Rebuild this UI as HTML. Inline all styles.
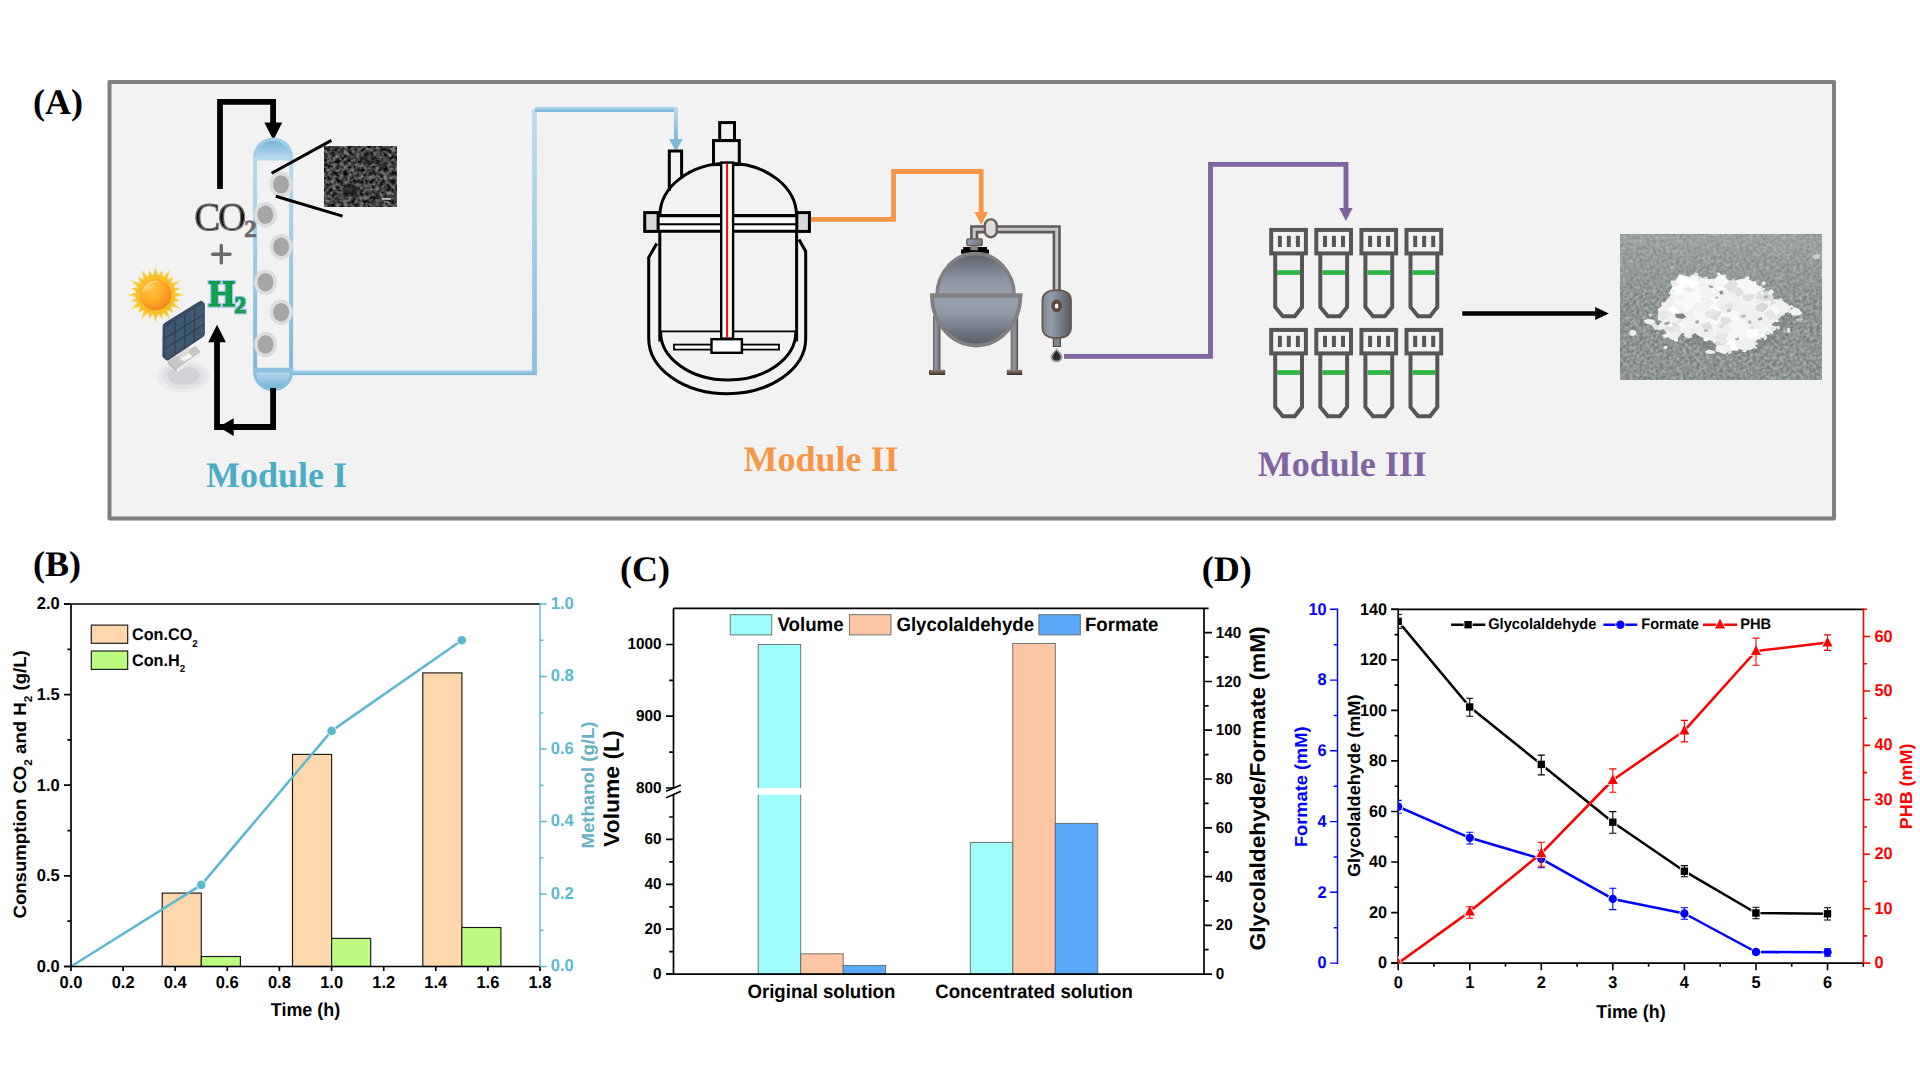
<!DOCTYPE html>
<html lang="en">
<head>
<meta charset="utf-8">
<title>Figure</title>
<style>
html,body{margin:0;padding:0;background:#fff;}
body{width:1920px;height:1080px;overflow:hidden;font-family:"Liberation Sans",sans-serif;}
svg{display:block;}
text{text-rendering:geometricPrecision;}
.ss{font-family:"Liberation Sans",sans-serif;font-weight:bold;}
.sf{font-family:"Liberation Serif",serif;font-weight:bold;}
</style>
</head>
<body>
<svg width="1920" height="1080" viewBox="0 0 1920 1080">
<defs>
<linearGradient id="gDomeT" x1="0" y1="0" x2="0" y2="1"><stop offset="0" stop-color="#74b2d7"/><stop offset="1" stop-color="#b6d8eb"/></linearGradient>
<linearGradient id="gDomeB" x1="0" y1="0" x2="0" y2="1"><stop offset="0" stop-color="#b6d8eb"/><stop offset="1" stop-color="#74b2d7"/></linearGradient>
<linearGradient id="gWall" x1="0" y1="0" x2="0" y2="1"><stop offset="0" stop-color="#b7d9ec"/><stop offset="1" stop-color="#7db9db"/></linearGradient>
<linearGradient id="gBlueH" x1="0" y1="0" x2="0" y2="1"><stop offset="0" stop-color="#b4d8ec"/><stop offset="1" stop-color="#70b1d6"/></linearGradient>
<linearGradient id="gBlueV" x1="0" y1="0" x2="0" y2="1"><stop offset="0" stop-color="#bfdcee"/><stop offset="1" stop-color="#86bfde"/></linearGradient>
<linearGradient id="gBlueV2" x1="0" y1="0" x2="0" y2="1"><stop offset="0" stop-color="#b9daed"/><stop offset="1" stop-color="#7db9db"/></linearGradient>
<radialGradient id="gSun" cx="0.36" cy="0.3" r="0.85"><stop offset="0" stop-color="#ffc63e"/><stop offset="0.45" stop-color="#ffab28"/><stop offset="0.85" stop-color="#f8861f"/><stop offset="1" stop-color="#f2701c"/></radialGradient>
<radialGradient id="gRays" cx="0.5" cy="0.5" r="0.5"><stop offset="0.55" stop-color="#f5b829"/><stop offset="0.78" stop-color="#f6cf45"/><stop offset="1" stop-color="#f8e27c" stop-opacity="0.75"/></radialGradient>
<radialGradient id="gShadow" cx="0.5" cy="0.5" r="0.5"><stop offset="0" stop-color="#d2d1d6"/><stop offset="0.55" stop-color="#d6d5d9"/><stop offset="0.62" stop-color="#e3e3e5"/><stop offset="0.8" stop-color="#e8e8e9"/><stop offset="1" stop-color="#f0f0f0"/></radialGradient>
<linearGradient id="gEvTop" x1="0" y1="0" x2="0" y2="1"><stop offset="0" stop-color="#5b606a"/><stop offset="0.6" stop-color="#8b93a0"/><stop offset="1" stop-color="#9aa3b0"/></linearGradient>
<linearGradient id="gEvBot" x1="0" y1="0" x2="0" y2="1"><stop offset="0" stop-color="#98a2af"/><stop offset="0.35" stop-color="#929aa7"/><stop offset="1" stop-color="#575b65"/></linearGradient>
<linearGradient id="gCond" x1="0" y1="0" x2="1" y2="0"><stop offset="0" stop-color="#7d8592"/><stop offset="0.3" stop-color="#959eac"/><stop offset="1" stop-color="#555963"/></linearGradient>
<linearGradient id="gLeg" x1="0" y1="0" x2="1" y2="0"><stop offset="0" stop-color="#6b5a4e"/><stop offset="0.3" stop-color="#8d96a5"/><stop offset="0.7" stop-color="#7f8794"/><stop offset="1" stop-color="#4a382c"/></linearGradient>
<linearGradient id="gFoot" x1="0" y1="0" x2="0" y2="1"><stop offset="0" stop-color="#8f8379"/><stop offset="1" stop-color="#3d2c22"/></linearGradient>
<linearGradient id="gCap" x1="0" y1="0" x2="1" y2="0"><stop offset="0" stop-color="#97a1b0"/><stop offset="1" stop-color="#6f7785"/></linearGradient>
<linearGradient id="gPhoto" x1="0" y1="0" x2="0" y2="1"><stop offset="0" stop-color="#aab1b0" stop-opacity="0.5"/><stop offset="0.3" stop-color="#a0a8a7" stop-opacity="0.3"/><stop offset="0.6" stop-color="#8e9695" stop-opacity="0"/><stop offset="1" stop-color="#8e9695" stop-opacity="0.1"/></linearGradient>
<filter id="fSem" x="0" y="0" width="100%" height="100%" color-interpolation-filters="sRGB">
<feTurbulence type="fractalNoise" baseFrequency="0.25" numOctaves="3" seed="7"/>
<feColorMatrix type="matrix" values="0.95 0 0 0 -0.215  0.95 0 0 0 -0.215  0.95 0 0 0 -0.215  0 0 0 0 1"/>
</filter>
<filter id="fPhoto" x="0" y="0" width="100%" height="100%" color-interpolation-filters="sRGB">
<feTurbulence type="fractalNoise" baseFrequency="0.3" numOctaves="3" seed="4"/>
<feColorMatrix type="matrix" values="0.42 0 0 0 0.345  0.42 0 0 0 0.372  0.42 0 0 0 0.366  0 0 0 0 1"/>
</filter>
<filter id="fBlur1" x="-20%" y="-20%" width="140%" height="140%"><feGaussianBlur stdDeviation="0.7"/></filter>
<filter id="fBlur03" x="-5%" y="-5%" width="110%" height="110%"><feGaussianBlur stdDeviation="0.28"/></filter>
<filter id="fBlur05" x="-20%" y="-20%" width="140%" height="140%"><feGaussianBlur stdDeviation="0.45"/></filter>
<filter id="fCore" x="-10%" y="-10%" width="120%" height="120%"><feMorphology operator="erode" radius="1.35" in="SourceAlpha" result="e"/><feGaussianBlur in="e" stdDeviation="0.4" result="eb"/><feFlood flood-color="#161616"/><feComposite in2="eb" operator="in" result="c"/><feMerge><feMergeNode in="SourceGraphic"/><feMergeNode in="c"/></feMerge></filter>
<filter id="fGlow" x="-30%" y="-30%" width="160%" height="160%"><feMorphology operator="dilate" radius="1.1" in="SourceAlpha" result="d"/><feGaussianBlur in="d" stdDeviation="0.55" result="b"/><feFlood flood-color="#a4c4ef"/><feComposite in2="b" operator="in" result="g"/><feMerge><feMergeNode in="g"/><feMergeNode in="SourceGraphic"/></feMerge></filter>
<clipPath id="cpPhoto"><rect x="1620" y="234.2" width="202" height="145.6"/></clipPath>
</defs>
<rect x="0" y="0" width="1920" height="1080" fill="#ffffff"/>
<rect x="109.5" y="82" width="1724.5" height="436.5" fill="#f2f2f2" stroke="#7f7f7f" stroke-width="4" stroke-linejoin="round"/>
<text class="sf" x="33" y="113.6" font-size="36">(A)</text>
<text class="sf" x="33" y="575.7" font-size="36">(B)</text>
<text class="sf" x="620.1" y="580.9" font-size="36">(C)</text>
<text class="sf" x="1201.8" y="580.9" font-size="36">(D)</text>
<g id="module1">
<path d="M220 189 V101.8 H273.1 V124" fill="none" stroke="#000" stroke-width="5.8" stroke-linejoin="miter"/>
<polygon points="264.4,122.5 282.2,122.5 273.3,140.2" fill="#000"/>
<path d="M253.1 157.5 A20 20 0 0 1 293.1 157.5 Z" fill="#9fcce6"/>
<path d="M256.3 157.5 A16.8 16.6 0 0 1 289.9 157.5 Z" fill="url(#gDomeT)"/>
<rect x="253.1" y="156.5" width="40" height="4" fill="#b5d8ec"/>
<rect x="253.1" y="160" width="4" height="210" fill="url(#gWall)"/>
<rect x="289.1" y="160" width="4" height="210" fill="url(#gWall)"/>
<rect x="253.1" y="367.7" width="40" height="5" fill="#8cc2e0"/>
<path d="M253.1 372 H293.1 A20 19.2 0 0 1 253.1 372 Z" fill="#86bedd"/>
<path d="M256.3 372.6 H289.9 A16.8 15.8 0 0 1 256.3 372.6 Z" fill="url(#gDomeB)"/>
<ellipse cx="281" cy="184.4" rx="11.6" ry="12.8" fill="#dddddd"/>
<ellipse cx="281" cy="184.4" rx="8" ry="9.2" fill="#a6a6a6"/>
<ellipse cx="265.3" cy="214.8" rx="11.6" ry="12.8" fill="#dddddd"/>
<ellipse cx="265.3" cy="214.8" rx="8" ry="9.2" fill="#a6a6a6"/>
<ellipse cx="281.1" cy="246.8" rx="11.6" ry="12.8" fill="#dddddd"/>
<ellipse cx="281.1" cy="246.8" rx="8" ry="9.2" fill="#a6a6a6"/>
<ellipse cx="265.5" cy="282.3" rx="11.6" ry="12.8" fill="#dddddd"/>
<ellipse cx="265.5" cy="282.3" rx="8" ry="9.2" fill="#a6a6a6"/>
<ellipse cx="281.1" cy="312.3" rx="11.6" ry="12.8" fill="#dddddd"/>
<ellipse cx="281.1" cy="312.3" rx="8" ry="9.2" fill="#a6a6a6"/>
<ellipse cx="265.5" cy="344.5" rx="11.6" ry="12.8" fill="#dddddd"/>
<ellipse cx="265.5" cy="344.5" rx="8" ry="9.2" fill="#a6a6a6"/>
<line x1="271.6" y1="173.2" x2="331.4" y2="140.4" stroke="#000" stroke-width="3"/>
<line x1="275.8" y1="196.2" x2="342.6" y2="216.1" stroke="#000" stroke-width="3"/>
<rect x="324" y="146" width="73" height="60.8" fill="#3a3a3a"/>
<rect x="324" y="146" width="73" height="60.8" fill="#3a3a3a" filter="url(#fSem)"/>
<ellipse cx="350.5" cy="190.5" rx="8" ry="6.5" fill="#1c1c1c" opacity="0.68" filter="url(#fBlur1)"/>
<ellipse cx="369" cy="160" rx="8" ry="5" fill="#1f1f1f" opacity="0.5" filter="url(#fBlur1)"/>
<ellipse cx="383" cy="165" rx="5" ry="4" fill="#1f1f1f" opacity="0.4" filter="url(#fBlur1)"/>
<rect x="382" y="198.2" width="9" height="1.4" fill="#e8e8e8"/>
<rect x="384" y="201.6" width="4" height="0.8" fill="#cfcfcf"/>
<g filter="url(#fCore)" fill="#707070" stroke="#707070" stroke-width="1.1" stroke-linejoin="round"><text class="sf" x="194.3" y="229.7" font-size="39" style="font-weight:normal">C</text><text class="sf" x="217.9" y="229.7" font-size="39" style="font-weight:normal">O</text></g>
<text class="sf" transform="translate(244.1 236.8) scale(1.05 1)" font-size="24.4" fill="#6a6a6a" stroke="#6a6a6a" stroke-width="0.6">2</text>
<path d="M212.6 254.2 H230 M221.3 245.5 V262.9" stroke="#6a6a6a" stroke-width="3.4" fill="none" stroke-linecap="round"/>
<g filter="url(#fGlow)" fill="#09a64d" stroke="#0a9b47" stroke-width="1.5" stroke-linejoin="round"><text class="sf" transform="translate(208.4 306.3) scale(0.915 1)" font-size="37">H</text><text class="sf" x="234.4" y="313.4" font-size="23.5" stroke-width="1.2">2</text></g>
<polygon points="155.6,265.5 158.1,275.7 162.2,270.1 162.9,277.0 170.2,269.4 167.3,279.5 173.6,276.7 170.8,283.0 180.9,280.1 173.3,287.4 180.2,288.1 174.6,292.2 184.8,294.7 174.6,297.2 180.2,301.3 173.3,302.0 180.9,309.3 170.8,306.4 173.6,312.7 167.3,309.9 170.2,320.0 162.9,312.4 162.2,319.3 158.1,313.7 155.6,323.9 153.1,313.7 149.0,319.3 148.3,312.4 141.0,320.0 143.9,309.9 137.6,312.7 140.4,306.4 130.3,309.3 137.9,302.0 131.0,301.3 136.6,297.2 126.4,294.7 136.6,292.2 131.0,288.1 137.9,287.4 130.3,280.1 140.4,283.0 137.6,276.7 143.9,279.5 141.0,269.4 148.3,277.0 149.0,270.1 153.1,275.7" fill="url(#gRays)" filter="url(#fBlur1)"/>
<circle cx="155.6" cy="294.7" r="19.5" fill="#f6c02c" opacity="0.85" filter="url(#fBlur05)"/>
<circle cx="155.6" cy="294.7" r="15.8" fill="url(#gSun)"/>
<path d="M143.4 291.2 A12.8 12.8 0 0 1 156.6 281.5" fill="none" stroke="#ffe9a8" stroke-width="1.5" stroke-linecap="round" opacity="0.75"/>
<ellipse cx="149.6" cy="287.2" rx="4.6" ry="2.4" fill="#ffe08a" opacity="0.5" transform="rotate(-35 149.6 287.2)"/>
<ellipse cx="183.2" cy="376.2" rx="27" ry="16.3" fill="#ebebec"/>
<ellipse cx="183.4" cy="375.9" rx="21.6" ry="12.9" fill="#e1e1e3"/>
<ellipse cx="183.4" cy="375.6" rx="16" ry="9.4" fill="#d3d2d7"/>
<polygon points="167.5,361 195.5,346 200.8,352 176.2,369.6" fill="#c6c6c6"/>
<polygon points="176.2,369.6 200.8,352 200.8,355.4 177.2,372.4" fill="#ececec"/>
<polygon points="167.5,361 176.2,369.6 177.2,372.4 167.8,363.4" fill="#b5b5b5"/>
<polygon points="179.5,352 189,346.8 189,356.4 179.5,361.4" fill="#dadada"/>
<polygon points="181.4,358 189.6,353.4 192.2,356.8 183.6,361.6" fill="#f6f6f6"/>
<path d="M162.6 326.8 Q162.6 324.2 164.8 322.8 L199.6 301.2 Q201.4 300.2 202.6 301.4 L204.2 303 Q204.9 303.8 204.9 305 V333.6 Q204.9 335.8 203 337 L168.8 359.9 Q167 361 165.6 359.8 L163.3 357.8 Q162.4 357 162.4 355.5 Z" fill="#364b63"/>
<path d="M164.8 327.4 L201.4 304.6 Q203.8 303.4 203.8 306 V333 Q203.8 334.8 202.2 335.8 L167.8 358.8 Q165.4 360 165.4 357.4 V329.2 Q165.4 328 164.8 327.4 Z" fill="#40586f"/>
<g stroke="#2b3f56" stroke-width="1.15" fill="none"><path d="M175 321.3 V354 M184.8 315.2 V347.6 M194.5 309.2 V341.2"/><path d="M165.4 338.2 L203.8 314.6 M165.4 348.2 L203.8 324.4"/></g>
<path d="M217 341 V427 H273.1 V388" fill="none" stroke="#000" stroke-width="5.8" stroke-linejoin="miter"/>
<polygon points="208.2,342.3 225.9,342.3 217,324.8" fill="#000"/>
<polygon points="233.7,418.3 233.7,436 218.6,427" fill="#000"/>
<rect x="292.6" y="370.3" width="244.3" height="4.8" fill="url(#gBlueH)"/>
<rect x="532.1" y="109" width="4.8" height="266.1" fill="url(#gBlueV)"/>
<rect x="535" y="107" width="142.9" height="4.9" fill="url(#gBlueH)"/>
<rect x="673.9" y="107" width="4" height="33" fill="url(#gBlueV2)"/>
<polygon points="669.1,139 682.7,139 675.9,151.6" fill="#7db9db"/>
<text class="sf" x="206" y="486.6" font-size="36" fill="#4bacc6">Module I</text>
</g>
<g id="reactor" fill="none" stroke="#000" stroke-width="3" stroke-linejoin="miter">
<path d="M669.3 191 V151 H681.6 V178.5"/>
<rect x="719.7" y="122.6" width="14.8" height="18" fill="#f2f2f2"/>
<rect x="713.5" y="140.6" width="25.8" height="24" fill="#f2f2f2"/>
<path d="M659.9 215.6 A68.3 52.3 0 0 1 796.5 215.6" />
<rect x="659.9" y="215.6" width="136.6" height="15.6" fill="#fbfbfb" stroke="none"/>
<path d="M658 215.6 H798" stroke-width="3.4"/>
<path d="M658 224.2 H798" stroke-width="2"/>
<path d="M658 231.2 H798" stroke-width="3"/>
<rect x="644.7" y="212.6" width="13.4" height="18.8" fill="#d9d9d9"/>
<rect x="796.8" y="212.6" width="12.6" height="18.8" fill="#d9d9d9"/>
<path d="M659.8 231 V341.5 M796.6 231 V341.5"/>
<path d="M660.6 332 A67.6 48 0 0 0 795.8 332" />
<path d="M661 331.4 H795.6" stroke-width="1.8"/>
<path d="M656.8 243.4 L648.7 257.4 V338.5 A78.5 55.2 0 0 0 805.7 338.5 V251.4 L799 239.4"/>
<rect x="721.2" y="162.6" width="11.9" height="176" fill="#fff" stroke-width="2.4"/>
<line x1="727.1" y1="163.5" x2="727.1" y2="338" stroke="#ff0000" stroke-width="2"/>
<rect x="674" y="344.6" width="105" height="5" fill="#fff" stroke-width="1.8"/>
<rect x="711.5" y="339.2" width="30.4" height="13.6" fill="#fff" stroke-width="2.4"/>
</g>
<path d="M811 219.4 H893.6 V171.5 H981.2 V213" fill="none" stroke="#f79646" stroke-width="4.8" stroke-linejoin="miter"/>
<polygon points="974.4,212 987.9,212 981.2,224.9" fill="#f79646"/>
<text class="sf" x="743.6" y="470.8" font-size="36" fill="#f79646">Module II</text>
<g id="evap">
<rect x="933" y="316" width="7.4" height="55" fill="url(#gLeg)"/>
<rect x="1010.7" y="316" width="7.4" height="55" fill="url(#gLeg)"/>
<rect x="929" y="369.8" width="16.2" height="5.2" fill="url(#gFoot)"/>
<rect x="1006.8" y="369.8" width="15.4" height="5.2" fill="url(#gFoot)"/>
<path d="M974.2 240 V229.3 H1056.7 V290" fill="none" stroke="#5c5c5c" stroke-width="8.2" stroke-linejoin="miter"/>
<path d="M974.2 240 V229.3 H1056.7 V290" fill="none" stroke="#c6c6c6" stroke-width="3" stroke-linejoin="miter"/>
<path d="M961 253.8 V249.6 H963.2 V247 H987 V249.6 H989 V253.8 Z" fill="#000"/>
<rect x="970.4" y="245" width="7.4" height="5.2" fill="#8c8c8c"/>
<rect x="966.8" y="238.9" width="15.4" height="6.6" rx="1" fill="url(#gCap)" stroke="#6e5f54" stroke-width="1.4"/>
<path d="M937 295.5 A38.6 42 0 0 1 1014.2 295.5 Z" fill="url(#gEvTop)" stroke="#808080" stroke-width="3.4"/>
<path d="M932 295.5 H1020.4 A44.2 50 0 0 1 932 295.5 Z" fill="url(#gEvBot)" stroke="#808080" stroke-width="3.8"/>
<path d="M930 295.5 H1022.3" stroke="#808080" stroke-width="4.2" fill="none"/>
<rect x="984.9" y="219.4" width="11.8" height="17.8" rx="5.6" ry="6" fill="#dcdcdc" stroke="#6b5f55" stroke-width="2.4"/>
<rect x="1053.4" y="337" width="7" height="9.4" fill="#7e8694" stroke="#5e4a3c" stroke-width="1.2"/>
<path d="M1042.4 301 Q1042.4 290.2 1056.7 290.2 Q1071 290.2 1071 301 V327 Q1071 338 1056.7 338 Q1042.4 338 1042.4 327 Z" fill="url(#gCond)" stroke="#66574b" stroke-width="1.8"/>
<ellipse cx="1056.6" cy="305.9" rx="5.3" ry="6.3" fill="#5e4a3c"/>
<ellipse cx="1056.6" cy="305.9" rx="1.8" ry="2.5" fill="#fff"/>
<path d="M1056.6 348.2 C1059 351.5 1062.6 354 1062.6 357 A6 5.2 0 0 1 1050.6 357 C1050.6 354 1054.2 351.5 1056.6 348.2 Z" fill="#9c9c9c"/>
<path d="M1056.6 350.6 C1058.4 353 1060.6 355 1060.6 357 A4 3.6 0 0 1 1052.6 357 C1052.6 355 1054.8 353 1056.6 350.6 Z" fill="#2a2c30"/>
</g>
<path d="M1064 356.4 H1210.5 V164.4 H1346 V209" fill="none" stroke="#8064a2" stroke-width="4.9" stroke-linejoin="miter"/>
<polygon points="1339.1,208.1 1352.6,208.1 1345.9,220.9" fill="#8064a2"/>
<text class="sf" x="1257.8" y="475.5" font-size="36" fill="#8064a2">Module III</text>
<g id="tubes" fill="none" stroke="#555" stroke-width="4" stroke-linejoin="miter">
<rect x="1271.2" y="229.9" width="34.7" height="23.5"/>
<rect x="1277.9" y="235.8" width="4" height="11.2" fill="#555" stroke="none"/>
<rect x="1286.8" y="235.8" width="4" height="11.2" fill="#555" stroke="none"/>
<rect x="1295.9" y="235.8" width="4" height="11.2" fill="#555" stroke="none"/>
<path d="M1275.2 253.9 V307.1 L1282.8 316.3 H1294.8 L1302.0 307.1 V253.9"/>
<rect x="1277.2" y="270.2" width="22.8" height="4.7" fill="#2db742" stroke="none"/>
<rect x="1316.3" y="229.9" width="34.7" height="23.5"/>
<rect x="1323.0" y="235.8" width="4" height="11.2" fill="#555" stroke="none"/>
<rect x="1331.9" y="235.8" width="4" height="11.2" fill="#555" stroke="none"/>
<rect x="1341.0" y="235.8" width="4" height="11.2" fill="#555" stroke="none"/>
<path d="M1320.3 253.9 V307.1 L1327.9 316.3 H1339.9 L1347.1 307.1 V253.9"/>
<rect x="1322.3" y="270.2" width="22.8" height="4.7" fill="#2db742" stroke="none"/>
<rect x="1361.4" y="229.9" width="34.7" height="23.5"/>
<rect x="1368.1" y="235.8" width="4" height="11.2" fill="#555" stroke="none"/>
<rect x="1377.0" y="235.8" width="4" height="11.2" fill="#555" stroke="none"/>
<rect x="1386.1" y="235.8" width="4" height="11.2" fill="#555" stroke="none"/>
<path d="M1365.4 253.9 V307.1 L1373.0 316.3 H1385.0 L1392.2 307.1 V253.9"/>
<rect x="1367.4" y="270.2" width="22.8" height="4.7" fill="#2db742" stroke="none"/>
<rect x="1406.5" y="229.9" width="34.7" height="23.5"/>
<rect x="1413.2" y="235.8" width="4" height="11.2" fill="#555" stroke="none"/>
<rect x="1422.1" y="235.8" width="4" height="11.2" fill="#555" stroke="none"/>
<rect x="1431.2" y="235.8" width="4" height="11.2" fill="#555" stroke="none"/>
<path d="M1410.5 253.9 V307.1 L1418.1 316.3 H1430.1 L1437.3 307.1 V253.9"/>
<rect x="1412.5" y="270.2" width="22.8" height="4.7" fill="#2db742" stroke="none"/>
<rect x="1271.2" y="329.9" width="34.7" height="23.5"/>
<rect x="1277.9" y="335.8" width="4" height="11.2" fill="#555" stroke="none"/>
<rect x="1286.8" y="335.8" width="4" height="11.2" fill="#555" stroke="none"/>
<rect x="1295.9" y="335.8" width="4" height="11.2" fill="#555" stroke="none"/>
<path d="M1275.2 353.9 V407.1 L1282.8 416.3 H1294.8 L1302.0 407.1 V353.9"/>
<rect x="1277.2" y="370.2" width="22.8" height="4.7" fill="#2db742" stroke="none"/>
<rect x="1316.3" y="329.9" width="34.7" height="23.5"/>
<rect x="1323.0" y="335.8" width="4" height="11.2" fill="#555" stroke="none"/>
<rect x="1331.9" y="335.8" width="4" height="11.2" fill="#555" stroke="none"/>
<rect x="1341.0" y="335.8" width="4" height="11.2" fill="#555" stroke="none"/>
<path d="M1320.3 353.9 V407.1 L1327.9 416.3 H1339.9 L1347.1 407.1 V353.9"/>
<rect x="1322.3" y="370.2" width="22.8" height="4.7" fill="#2db742" stroke="none"/>
<rect x="1361.4" y="329.9" width="34.7" height="23.5"/>
<rect x="1368.1" y="335.8" width="4" height="11.2" fill="#555" stroke="none"/>
<rect x="1377.0" y="335.8" width="4" height="11.2" fill="#555" stroke="none"/>
<rect x="1386.1" y="335.8" width="4" height="11.2" fill="#555" stroke="none"/>
<path d="M1365.4 353.9 V407.1 L1373.0 416.3 H1385.0 L1392.2 407.1 V353.9"/>
<rect x="1367.4" y="370.2" width="22.8" height="4.7" fill="#2db742" stroke="none"/>
<rect x="1406.5" y="329.9" width="34.7" height="23.5"/>
<rect x="1413.2" y="335.8" width="4" height="11.2" fill="#555" stroke="none"/>
<rect x="1422.1" y="335.8" width="4" height="11.2" fill="#555" stroke="none"/>
<rect x="1431.2" y="335.8" width="4" height="11.2" fill="#555" stroke="none"/>
<path d="M1410.5 353.9 V407.1 L1418.1 416.3 H1430.1 L1437.3 407.1 V353.9"/>
<rect x="1412.5" y="370.2" width="22.8" height="4.7" fill="#2db742" stroke="none"/>
</g>
<line x1="1462.3" y1="313.5" x2="1597" y2="313.5" stroke="#000" stroke-width="4.6"/>
<polygon points="1595.2,307 1595.2,320 1608.8,313.5" fill="#000"/>
<rect x="1620" y="234.2" width="202" height="145.6" fill="#8e9695" filter="url(#fPhoto)"/>
<rect x="1620" y="234.2" width="202" height="145.6" fill="url(#gPhoto)"/>
<g clip-path="url(#cpPhoto)">
<g filter="url(#fBlur03)">
<polygon points="1657.8,321.2 1686.3,338.4 1714.8,355.5 1757.6,352.6 1779.0,332.7 1793.2,315.5 1771.8,309.8 1672.0,309.8" fill="#6e7675" opacity="0.35" filter="url(#fBlur1)"/>
<polygon points="1657.8,315.5 1659.2,309.8 1663.5,304.1 1669.2,297.0 1673.5,289.9 1677.7,281.3 1682.0,277.8 1689.1,278.5 1692.7,277.0 1697.0,274.2 1700.5,277.8 1706.2,278.5 1709.1,282.8 1714.8,278.5 1719.1,274.2 1724.8,275.6 1727.6,279.9 1733.3,281.3 1739.0,279.2 1746.2,278.5 1754.7,282.0 1759.0,286.3 1763.3,289.9 1761.8,292.7 1769.0,294.2 1771.8,298.4 1780.4,299.9 1786.1,302.7 1791.1,307.0 1789.7,311.3 1783.2,314.1 1779.0,318.4 1776.1,321.2 1771.8,324.1 1772.5,328.4 1766.1,332.7 1763.3,336.2 1759.0,338.4 1754.7,342.6 1755.4,346.9 1750.4,349.8 1743.3,350.5 1737.6,348.3 1729.1,352.6 1723.4,351.2 1717.7,346.2 1720.5,341.2 1714.8,341.9 1706.2,339.1 1699.1,336.2 1694.8,332.7 1689.1,336.9 1684.9,336.2 1683.4,331.2 1679.9,335.5 1676.3,340.5 1671.3,339.8 1666.3,335.5 1667.0,329.8 1670.6,324.1 1664.9,329.1 1659.2,329.8 1657.1,326.9 1662.0,321.2 1657.8,319.8" fill="#f0f1ef"/>
<polygon points="1674.9,289.9 1682.0,279.2 1692.0,279.9 1700.5,289.9 1702.0,304.1 1692.0,315.5 1682.0,309.8 1674.9,304.1" fill="#fafaf9"/>
<polygon points="1713.4,279.9 1719.8,274.9 1727.6,280.6 1729.1,289.9 1720.5,292.7 1714.8,287.0" fill="#f8f8f7"/>
<polygon points="1733.3,282.8 1746.2,279.2 1757.6,285.6 1762.6,291.3 1751.9,297.0 1740.5,295.6 1733.3,289.9" fill="#f7f7f6"/>
<polygon points="1700.5,309.8 1714.8,304.1 1726.2,315.5 1723.4,326.9 1711.9,329.8 1700.5,321.2" fill="#fbfbfa"/>
<polygon points="1729.1,321.2 1743.3,318.4 1751.9,326.9 1761.8,335.5 1751.9,339.8 1740.5,335.5 1731.9,329.8" fill="#f5f5f4"/>
<polygon points="1657.8,311.3 1672.0,304.1 1676.3,312.7 1672.0,319.8 1660.6,320.5" fill="#e8eae8"/>
<polygon points="1727.7,325.7 1723.4,331.4 1716.6,329.9 1715.9,325.1 1718.7,322.3 1725.3,323.5" fill="#eef0ee"/>
<polygon points="1756.1,299.4 1754.9,304.7 1745.1,302.7 1746.8,295.8" fill="#f6f7f5"/>
<polygon points="1723.0,344.6 1729.1,338.9 1736.2,341.0 1733.5,345.6 1728.9,348.9" fill="#ffffff"/>
<polygon points="1771.5,307.8 1770.1,303.3 1772.7,300.0 1776.4,302.8 1775.9,306.4" fill="#dde0de"/>
<polygon points="1692.4,323.5 1683.7,327.6 1677.1,321.7 1681.5,317.7 1691.5,317.4" fill="#e6e8e6"/>
<polygon points="1741.1,288.2 1736.5,294.1 1725.0,289.9 1727.2,284.4" fill="#e6e8e6"/>
<polygon points="1732.0,292.4 1723.4,286.5 1733.1,278.6 1738.3,284.4" fill="#dde0de"/>
<polygon points="1754.1,329.1 1751.4,332.1 1748.2,331.1 1748.8,327.9 1753.8,326.3" fill="#dde0de"/>
<polygon points="1659.8,307.1 1664.4,305.4 1667.0,306.7 1663.8,311.2 1658.6,309.6" fill="#f2f3f1"/>
<polygon points="1733.0,340.1 1724.7,338.1 1725.8,334.2 1731.4,331.9 1733.4,336.0" fill="#f6f7f5"/>
<polygon points="1704.5,284.7 1700.4,280.1 1703.5,278.1 1710.2,279.0 1710.8,282.1" fill="#f6f7f5"/>
<polygon points="1774.5,331.3 1768.1,329.9 1765.5,326.6 1772.8,325.5 1777.5,327.3" fill="#eef0ee"/>
<polygon points="1706.1,330.1 1704.4,325.6 1710.0,323.3 1717.5,324.5 1714.4,329.4" fill="#f6f7f5"/>
<polygon points="1771.0,291.0 1772.5,294.7 1773.9,300.4 1760.7,301.3 1755.5,297.9 1757.9,291.3" fill="#dde0de"/>
<polygon points="1726.6,344.2 1734.2,346.2 1725.0,354.2 1715.4,351.2 1717.0,342.2" fill="#eef0ee"/>
<polygon points="1760.2,314.9 1764.3,315.3 1764.0,318.6 1760.4,319.2 1758.3,317.0" fill="#f6f7f5"/>
<polygon points="1722.0,311.7 1716.8,321.3 1706.4,316.4 1709.1,309.8" fill="#dde0de"/>
<polygon points="1685.2,279.2 1692.6,278.6 1700.6,283.2 1692.5,287.8 1685.7,285.7" fill="#ffffff"/>
<polygon points="1683.0,283.3 1677.4,289.1 1671.6,285.2 1670.4,280.6 1681.0,280.6" fill="#eef0ee"/>
<polygon points="1685.3,327.9 1677.5,324.9 1685.4,318.0 1689.9,321.9" fill="#f9f9f8"/>
<polygon points="1664.3,330.1 1670.9,327.7 1680.4,329.2 1676.5,335.6 1668.4,335.2" fill="#eef0ee"/>
<polygon points="1713.3,287.4 1715.8,292.9 1712.6,293.3 1705.0,291.3 1707.8,286.4" fill="#f9f9f8"/>
<polygon points="1679.9,310.4 1682.7,312.4 1681.1,313.9 1677.8,313.8 1677.3,310.7" fill="#dde0de"/>
<polygon points="1673.6,315.1 1668.3,312.6 1672.3,308.1 1681.5,309.0 1680.8,313.4" fill="#f2f3f1"/>
<polygon points="1750.2,301.6 1745.7,301.2 1742.4,297.6 1743.1,294.9 1749.2,293.4 1756.2,294.9" fill="#dde0de"/>
<polygon points="1711.9,308.3 1718.0,313.1 1707.4,318.3 1704.2,315.0 1706.4,309.5" fill="#e6e8e6"/>
<polygon points="1726.3,311.9 1728.1,305.5 1737.3,305.4 1733.5,313.2" fill="#eef0ee"/>
<polygon points="1737.4,311.1 1739.9,319.5 1729.8,321.4 1723.4,321.4 1724.2,313.5 1732.3,310.3" fill="#f9f9f8"/>
<polygon points="1708.0,298.1 1704.4,299.5 1704.3,295.4 1709.8,294.3" fill="#f6f7f5"/>
<polygon points="1680.3,307.3 1682.7,311.4 1678.7,312.7 1672.0,311.6 1671.8,308.2" fill="#f9f9f8"/>
<polygon points="1709.9,297.2 1719.1,295.1 1720.4,299.5 1713.1,305.6 1708.6,300.4" fill="#ffffff"/>
<polygon points="1689.9,281.1 1688.4,277.4 1694.8,273.8 1699.1,276.5 1696.2,280.4" fill="#f9f9f8"/>
<polygon points="1724.3,303.6 1730.2,302.1 1734.2,303.8 1732.7,308.1 1724.3,308.3" fill="#e6e8e6"/>
<polygon points="1751.1,318.8 1746.3,318.4 1742.7,314.1 1751.2,310.4 1753.5,314.5" fill="#f2f3f1"/>
<polygon points="1728.4,339.5 1725.1,345.9 1718.9,347.9 1712.2,338.4 1722.0,334.1" fill="#eef0ee"/>
<polygon points="1732.3,321.8 1723.0,325.8 1720.8,320.9 1721.4,316.8 1729.7,317.8" fill="#dde0de"/>
<polygon points="1679.6,274.2 1690.5,277.3 1680.1,286.5 1675.9,279.4" fill="#ffffff"/>
<polygon points="1685.6,295.1 1686.5,298.5 1676.1,301.1 1674.6,295.2" fill="#f2f3f1"/>
<polygon points="1714.5,338.7 1713.1,336.8 1715.0,334.6 1720.6,335.2 1719.9,337.2 1718.5,338.8" fill="#f2f3f1"/>
<polygon points="1674.0,304.1 1681.6,304.8 1686.2,310.0 1679.7,312.3 1675.1,312.9 1671.0,309.4" fill="#f2f3f1"/>
<polygon points="1701.0,302.5 1704.8,304.6 1701.8,307.7 1697.2,307.5 1695.6,304.0" fill="#eef0ee"/>
<polygon points="1688.3,286.7 1695.8,290.7 1689.1,292.5 1683.4,289.0" fill="#e6e8e6"/>
<polygon points="1757.0,298.9 1763.5,300.6 1763.2,306.3 1757.9,304.7 1753.2,301.3" fill="#eef0ee"/>
<polygon points="1702.9,310.9 1708.0,320.2 1701.8,323.1 1690.9,316.6 1695.6,312.3" fill="#f6f7f5"/>
<polygon points="1726.0,342.9 1719.8,347.1 1714.0,343.8 1719.4,337.7 1725.4,335.9 1730.1,338.7" fill="#d6d9d7"/>
<polygon points="1717.2,333.3 1730.4,333.3 1730.3,337.9 1728.8,341.3 1721.3,344.2 1714.6,337.9" fill="#e6e8e6"/>
<polygon points="1682.0,323.2 1685.7,315.6 1693.8,315.2 1701.3,325.5 1690.5,328.4" fill="#f2f3f1"/>
<polygon points="1682.4,285.2 1680.3,293.0 1668.7,294.1 1672.7,286.0" fill="#ffffff"/>
<polygon points="1666.7,324.8 1668.6,320.6 1676.3,322.9 1680.0,328.6 1671.0,332.5 1665.6,329.6" fill="#dde0de"/>
<polygon points="1675.8,322.4 1667.1,323.3 1665.3,319.8 1668.1,315.4 1675.8,315.5" fill="#f2f3f1"/>
<polygon points="1694.6,314.1 1686.8,317.0 1685.1,313.4 1692.7,307.8" fill="#eef0ee"/>
<polygon points="1757.0,336.2 1750.4,338.4 1745.7,332.3 1748.7,328.5 1758.8,330.2" fill="#ffffff"/>
<polygon points="1676.4,308.7 1675.5,312.9 1671.2,312.9 1665.4,310.7 1670.3,306.9" fill="#f2f3f1"/>
<polygon points="1677.3,326.1 1680.1,328.5 1679.5,332.2 1674.1,331.1 1672.2,326.6" fill="#e6e8e6"/>
<polygon points="1695.7,301.8 1707.3,304.2 1711.7,309.8 1699.5,312.8 1690.3,308.8" fill="#f2f3f1"/>
<polygon points="1770.0,314.0 1777.7,311.6 1780.9,316.8 1776.3,321.2 1769.3,318.7" fill="#e6e8e6"/>
<polygon points="1730.5,325.4 1741.0,319.5 1748.0,323.4 1747.6,330.8 1733.0,331.3" fill="#f6f7f5"/>
<polygon points="1733.5,294.3 1735.6,293.1 1737.9,296.2 1737.7,297.7 1733.9,299.2 1731.9,296.2" fill="#eef0ee"/>
<polygon points="1713.7,284.8 1709.0,282.5 1707.9,279.3 1711.8,278.7 1717.1,279.6 1715.3,282.4" fill="#f2f3f1"/>
<polygon points="1765.8,308.3 1769.4,305.2 1775.2,303.4 1781.7,306.9 1775.3,313.0 1769.7,313.0" fill="#eef0ee"/>
<polygon points="1724.8,340.2 1729.0,333.4 1732.3,331.0 1741.6,333.5 1745.3,338.3 1739.1,341.1" fill="#f6f7f5"/>
<polygon points="1737.4,297.3 1734.9,291.8 1738.7,286.9 1744.4,293.3" fill="#dde0de"/>
<polygon points="1756.6,305.6 1761.8,302.4 1767.5,303.8 1767.7,308.2 1762.9,312.6 1755.5,310.1" fill="#d6d9d7"/>
<polygon points="1702.7,305.0 1701.3,298.2 1709.9,297.5 1714.8,303.4" fill="#eef0ee"/>
<polygon points="1709.2,321.5 1713.5,329.3 1704.4,329.6 1701.5,324.4" fill="#dde0de"/>
<polygon points="1735.9,343.7 1737.1,347.4 1737.4,350.7 1733.6,350.6 1730.2,349.1 1730.8,345.5" fill="#ffffff"/>
<polygon points="1689.4,329.9 1693.1,327.8 1694.8,329.5 1694.1,331.9 1691.0,331.6" fill="#e6e8e6"/>
<polygon points="1724.6,325.9 1721.2,328.3 1718.0,326.4 1721.3,324.4" fill="#d6d9d7"/>
<polygon points="1761.5,314.3 1768.1,307.4 1776.3,305.3 1780.7,311.1 1773.7,319.4" fill="#f9f9f8"/>
<polygon points="1673.4,305.3 1678.6,310.2 1674.1,313.4 1669.4,310.8 1667.2,307.8" fill="#ffffff"/>
<polygon points="1686.7,291.4 1690.7,292.9 1689.2,296.1 1683.3,294.7" fill="#f6f7f5"/>
<polygon points="1770.5,308.3 1777.3,316.9 1769.7,319.7 1763.7,313.9" fill="#e6e8e6"/>
<polygon points="1713.2,295.3 1703.4,296.1 1698.1,286.1 1704.7,283.4 1711.8,287.3" fill="#f2f3f1"/>
<polygon points="1763.2,327.1 1771.7,324.6 1773.3,333.7 1765.6,333.8 1758.2,329.8" fill="#f6f7f5"/>
<polygon points="1788.6,307.4 1786.0,310.5 1780.7,310.1 1781.0,308.4 1784.5,306.6" fill="#f2f3f1"/>
<polygon points="1659.7,312.0 1657.5,309.9 1658.9,308.3 1662.3,308.1 1662.4,311.6" fill="#f6f7f5"/>
<polygon points="1661.0,303.5 1661.9,301.9 1667.5,302.6 1665.1,305.4 1662.0,306.3" fill="#eef0ee"/>
<polygon points="1675.9,289.6 1674.7,292.8 1671.5,292.1 1672.8,289.5" fill="#eef0ee"/>
<polygon points="1676.6,280.3 1679.0,280.0 1678.7,282.0 1676.7,282.3 1675.0,281.0" fill="#ffffff"/>
<polygon points="1691.3,278.6 1688.7,279.4 1687.1,277.6 1689.3,276.7 1691.8,277.0" fill="#f6f7f5"/>
<polygon points="1695.0,275.6 1694.2,278.3 1690.1,278.7 1690.9,274.8" fill="#f6f7f5"/>
<polygon points="1696.9,272.8 1698.3,274.1 1697.6,276.1 1695.4,277.0 1693.1,275.1 1695.3,272.6" fill="#e6e8e6"/>
<polygon points="1701.0,279.0 1698.4,279.2 1697.4,276.4 1702.3,276.7" fill="#e6e8e6"/>
<polygon points="1704.3,279.4 1704.0,277.2 1705.5,276.8 1708.1,276.6 1707.3,279.3" fill="#e6e8e6"/>
<polygon points="1710.5,282.8 1709.0,283.6 1707.0,283.3 1707.5,282.1" fill="#ffffff"/>
<polygon points="1717.3,274.6 1716.6,273.3 1717.7,272.7 1719.6,273.0 1720.2,274.2 1719.9,275.3" fill="#ffffff"/>
<polygon points="1722.2,276.1 1723.0,274.9 1725.1,274.5 1726.8,276.1 1724.4,276.5" fill="#eef0ee"/>
<polygon points="1749.7,278.7 1747.1,279.8 1744.6,278.3 1745.6,276.8 1749.1,276.6" fill="#f6f7f5"/>
<polygon points="1757.1,282.4 1754.8,283.6 1752.2,283.7 1753.9,281.2 1755.2,280.8" fill="#f6f7f5"/>
<polygon points="1760.4,288.3 1755.9,287.7 1757.6,286.1 1760.9,285.8 1763.1,287.2" fill="#eef0ee"/>
<polygon points="1765.4,288.0 1764.9,290.6 1760.1,289.9 1762.1,288.1" fill="#e6e8e6"/>
<polygon points="1761.2,292.4 1763.1,292.4 1763.8,294.1 1762.2,295.1 1760.4,293.0" fill="#ffffff"/>
<polygon points="1770.6,292.0 1771.9,294.0 1770.2,294.8 1768.1,293.6 1768.4,292.4" fill="#eef0ee"/>
<polygon points="1782.3,300.6 1781.0,301.4 1779.0,300.2 1778.6,299.6 1780.1,298.3 1782.2,298.5" fill="#eef0ee"/>
<polygon points="1793.1,306.0 1793.6,307.5 1791.7,307.9 1790.5,306.6 1790.1,306.1 1791.7,304.9" fill="#f6f7f5"/>
<polygon points="1792.5,312.6 1788.5,313.4 1788.4,309.6 1789.4,308.8 1792.8,309.4" fill="#e6e8e6"/>
<polygon points="1780.3,311.5 1783.9,312.7 1785.5,314.7 1781.2,315.9 1780.1,314.8" fill="#e6e8e6"/>
<polygon points="1777.2,319.3 1779.0,320.7 1779.5,321.4 1776.6,322.3 1775.1,321.7 1776.0,320.6" fill="#f6f7f5"/>
<polygon points="1775.6,329.0 1772.2,330.8 1769.8,329.9 1768.6,327.7 1772.2,326.0" fill="#e6e8e6"/>
<polygon points="1769.2,335.0 1767.2,334.9 1764.6,333.4 1765.0,332.7 1767.9,331.0 1769.7,332.0" fill="#e6e8e6"/>
<polygon points="1766.7,337.5 1761.8,338.0 1760.2,335.0 1763.7,332.8 1765.9,335.1" fill="#ffffff"/>
<polygon points="1758.4,337.1 1762.0,339.3 1758.8,339.6 1755.5,338.6" fill="#f6f7f5"/>
<polygon points="1753.7,345.4 1752.9,343.1 1754.1,341.6 1756.2,342.1 1758.5,343.7 1756.8,345.0" fill="#e6e8e6"/>
<polygon points="1755.9,346.3 1757.6,348.2 1754.5,348.7 1754.0,347.3" fill="#e6e8e6"/>
<polygon points="1752.0,349.3 1749.4,350.5 1748.9,349.7 1749.7,348.3 1751.4,348.0" fill="#e6e8e6"/>
<polygon points="1747.2,350.6 1745.3,352.2 1742.2,351.7 1743.6,350.2 1744.8,350.0" fill="#ffffff"/>
<polygon points="1738.1,347.9 1739.3,349.7 1736.7,350.6 1733.0,349.1 1734.5,346.4" fill="#ffffff"/>
<polygon points="1732.1,353.0 1728.4,354.2 1727.5,351.2 1731.4,350.8" fill="#e6e8e6"/>
<polygon points="1722.2,349.4 1724.6,349.8 1724.8,352.5 1722.3,352.6 1720.2,350.3" fill="#f6f7f5"/>
<polygon points="1721.9,345.5 1721.6,346.7 1719.9,349.2 1716.9,348.9 1716.6,346.3 1718.1,345.0" fill="#f6f7f5"/>
<polygon points="1720.7,342.7 1717.3,341.4 1718.1,338.9 1721.4,338.3 1723.0,340.8" fill="#e6e8e6"/>
<polygon points="1715.4,342.7 1713.4,343.2 1712.5,342.1 1714.2,340.8" fill="#f6f7f5"/>
<polygon points="1706.2,337.4 1709.2,338.4 1707.8,341.2 1703.8,341.2 1703.3,338.7" fill="#ffffff"/>
<polygon points="1693.0,333.7 1692.1,332.4 1693.1,331.7 1694.2,331.6 1696.2,332.2 1694.5,333.4" fill="#eef0ee"/>
<polygon points="1688.6,338.4 1685.0,337.3 1686.7,334.9 1690.9,334.8 1692.5,337.3" fill="#e6e8e6"/>
<polygon points="1684.9,334.5 1686.8,335.0 1687.2,336.1 1685.5,337.0 1683.6,335.8" fill="#eef0ee"/>
<polygon points="1681.8,330.2 1684.4,331.2 1684.3,333.6 1680.4,333.0" fill="#eef0ee"/>
<polygon points="1674.6,341.5 1673.9,339.5 1675.8,338.1 1677.9,339.2 1677.8,341.4" fill="#ffffff"/>
<polygon points="1664.1,337.8 1662.0,335.2 1664.6,334.2 1669.0,333.3 1667.8,336.9" fill="#f6f7f5"/>
<polygon points="1666.6,332.4 1663.8,329.6 1665.7,328.2 1668.5,329.8" fill="#e6e8e6"/>
<polygon points="1671.9,326.7 1668.3,326.7 1667.0,324.6 1669.4,323.2 1672.2,323.2" fill="#ffffff"/>
<polygon points="1659.7,327.6 1660.9,328.8 1659.9,330.0 1658.7,330.3 1656.1,329.6 1656.9,327.9" fill="#e6e8e6"/>
<polygon points="1656.2,327.1 1653.8,326.5 1655.6,324.5 1658.0,325.7" fill="#eef0ee"/>
<polygon points="1674.9,314.1 1683.4,313.4 1686.3,317.3 1682.0,319.1 1676.3,317.7" fill="#7f8583"/>
<polygon points="1719.1,291.3 1722.6,290.6 1723.4,294.2 1720.2,294.4" fill="#8a8f8d"/>
<polygon points="1708.4,285.3 1713.4,285.9 1712.7,288.2 1709.1,287.3" fill="#979c9a"/>
<polygon points="1757.6,318.4 1761.8,317.0 1762.6,319.5 1758.7,320.7" fill="#9aa09e"/>
<polygon points="1694.8,321.2 1698.4,319.8 1699.1,322.7 1696.3,324.1" fill="#a3a8a6"/>
<polygon points="1763.3,297.0 1766.1,294.9 1768.3,297.0 1765.4,298.7" fill="#a5aaa8"/>
<polygon points="1664.2,322.7 1669.9,321.2 1669.2,324.1 1664.9,325.2" fill="#9a9f9d"/>
<polygon points="1740.5,315.5 1745.5,314.1 1746.2,317.0 1741.9,318.1" fill="#b9bdbb"/>
<polygon points="1726.2,309.8 1730.5,308.1 1731.2,311.3 1727.6,312.7" fill="#c2c6c4"/>
<polygon points="1747.6,321.2 1750.4,319.8 1751.9,323.4 1748.7,324.1" fill="#b4b8b6"/>
<polygon points="1703.4,329.8 1707.7,329.1 1708.4,331.5 1704.5,332.1" fill="#b0b5b3"/>
<polygon points="1734.8,338.4 1738.8,337.2 1739.3,339.8 1735.9,340.6" fill="#a9aeac"/>
<polygon points="1714.8,297.0 1717.9,295.9 1718.8,298.4 1715.7,299.3" fill="#bfc3c1"/>
<polygon points="1790.4,311.3 1793.9,307.0 1798.9,309.1 1802.5,313.4 1798.9,315.5 1791.8,315.5" fill="#f3f4f2"/>
<polygon points="1643.5,320.5 1647.8,318.7 1653.5,319.8 1655.6,322.7 1651.4,324.8 1645.7,323.4" fill="#eef0ee"/>
<polygon points="1629.3,331.9 1631.4,329.8 1635.7,330.5 1636.4,334.1 1632.8,336.2 1630.0,335.2" fill="#eef0ee"/>
<polygon points="1663.9,346.6 1666.0,345.5 1667.8,347.2 1666.3,349.2 1664.2,348.6" fill="#eef0ee"/>
<polygon points="1704.8,351.2 1709.1,349.5 1714.8,350.9 1715.5,352.9 1710.5,354.0 1706.2,353.3" fill="#eef0ee"/>
<polygon points="1769.0,290.6 1771.8,289.2 1774.0,291.3 1772.5,293.9 1769.7,293.4" fill="#eef0ee"/>
<polygon points="1761.6,282.5 1764.0,281.0 1765.8,283.0 1764.4,285.6 1761.8,284.9" fill="#e6e9e7"/>
<polygon points="1786.8,328.4 1789.7,327.7 1790.1,332.7 1787.5,332.9" fill="#e4e7e5"/>
<polygon points="1776.4,326.2 1779.0,325.2 1780.4,328.4 1778.2,329.8" fill="#e8ebe9"/>
<polygon points="1650.6,324.1 1656.3,323.4 1657.8,328.4 1654.9,329.8" fill="#e4e7e5"/>
<polygon points="1647.8,314.4 1650.6,313.4 1652.4,315.5 1650.4,317.3" fill="#c9cecc"/>
<polygon points="1795.4,318.7 1801.8,318.1 1803.2,320.1 1797.5,321.2" fill="#c3c9c7"/>
<polygon points="1763.3,336.2 1766.1,335.5 1767.0,339.1 1764.1,340.1" fill="#e6e9e7"/>
<polygon points="1749.0,344.1 1754.0,342.9 1755.4,346.9 1751.2,349.2" fill="#eef0ee"/>
<polygon points="1686.3,334.1 1690.6,332.9 1692.0,336.2 1688.0,337.2" fill="#e9ecea"/>
</g>
<polygon points="1811.7,256.4 1817.5,253.5 1820.3,255.0 1819.6,258.5 1814.6,259.2" fill="#cdd2d1" filter="url(#fBlur1)"/>
<polygon points="1670.3,266.8 1672.3,265.6 1674.0,267.4 1672.6,269.1 1670.6,268.5" fill="#b4bbba" filter="url(#fBlur1)"/>
<polygon points="1707.4,257.1 1709.1,255.7 1710.2,258.5 1708.2,259.9" fill="#aab1b0" filter="url(#fBlur1)"/>
</g>
<g id="chartB">
<rect x="162.2" y="893.1" width="39.1" height="73.4" fill="#ffd7ad" stroke="#1a1a1a" stroke-width="1.15"/>
<rect x="201.3" y="956.5" width="39.1" height="10.0" fill="#bdfc81" stroke="#1a1a1a" stroke-width="1.15"/>
<rect x="292.5" y="754.4" width="39.1" height="212.1" fill="#ffd7ad" stroke="#1a1a1a" stroke-width="1.15"/>
<rect x="331.6" y="938.4" width="39.1" height="28.1" fill="#bdfc81" stroke="#1a1a1a" stroke-width="1.15"/>
<rect x="422.8" y="672.9" width="39.1" height="293.6" fill="#ffd7ad" stroke="#1a1a1a" stroke-width="1.15"/>
<rect x="461.8" y="927.5" width="39.1" height="39.0" fill="#bdfc81" stroke="#1a1a1a" stroke-width="1.15"/>
<polyline points="71.0,966.5 201.3,884.9 331.6,730.9 461.8,640.2" fill="none" stroke="#5bb9cf" stroke-width="2.5" stroke-linejoin="round"/>
<circle cx="201.3" cy="884.9" r="4.3" fill="#5bb9cf" stroke="#fff" stroke-width="1.5" paint-order="stroke"/>
<circle cx="331.6" cy="730.9" r="4.3" fill="#5bb9cf" stroke="#fff" stroke-width="1.5" paint-order="stroke"/>
<circle cx="461.8" cy="640.2" r="4.3" fill="#5bb9cf" stroke="#fff" stroke-width="1.5" paint-order="stroke"/>
<path d="M71.0 604.0 V966.5 M64.0 966.5 H540.0 M64.0 604.0 H540.0" stroke="#000" stroke-width="1.7" fill="none"/>
<path d="M540.0 603.2 V967.3" stroke="#5bb9cf" stroke-width="1.4" fill="none"/>
<path d="M64.0 966.5 H71.0 M67.4 921.2 H71.0 M64.0 875.9 H71.0 M67.4 830.6 H71.0 M64.0 785.2 H71.0 M67.4 739.9 H71.0 M64.0 694.6 H71.0 M67.4 649.3 H71.0 M64.0 604.0 H71.0 M71.0 966.5 V971.1 M123.1 966.5 V971.1 M175.2 966.5 V971.1 M227.3 966.5 V971.1 M279.4 966.5 V971.1 M331.6 966.5 V971.1 M383.7 966.5 V971.1 M435.8 966.5 V971.1 M487.9 966.5 V971.1 M540.0 966.5 V971.1 " stroke="#000" stroke-width="1.7" fill="none"/>
<path d="M540.0 966.5 H546.8 M540.0 930.2 H543.4 M540.0 894.0 H546.8 M540.0 857.8 H543.4 M540.0 821.5 H546.8 M540.0 785.2 H543.4 M540.0 749.0 H546.8 M540.0 712.8 H543.4 M540.0 676.5 H546.8 M540.0 640.2 H543.4 M540.0 604.0 H546.8 " stroke="#5bb9cf" stroke-width="1.35" fill="none"/>
<text class="ss" transform="translate(59.7 971.7) scale(0.96 1)" font-size="17.2" text-anchor="end">0.0</text>
<text class="ss" transform="translate(59.7 881.1) scale(0.96 1)" font-size="17.2" text-anchor="end">0.5</text>
<text class="ss" transform="translate(59.7 790.5) scale(0.96 1)" font-size="17.2" text-anchor="end">1.0</text>
<text class="ss" transform="translate(59.7 699.8) scale(0.96 1)" font-size="17.2" text-anchor="end">1.5</text>
<text class="ss" transform="translate(59.7 609.2) scale(0.96 1)" font-size="17.2" text-anchor="end">2.0</text>
<text class="ss" transform="translate(71.0 987.7) scale(0.96 1)" font-size="17.2" text-anchor="middle">0.0</text>
<text class="ss" transform="translate(123.1 987.7) scale(0.96 1)" font-size="17.2" text-anchor="middle">0.2</text>
<text class="ss" transform="translate(175.2 987.7) scale(0.96 1)" font-size="17.2" text-anchor="middle">0.4</text>
<text class="ss" transform="translate(227.3 987.7) scale(0.96 1)" font-size="17.2" text-anchor="middle">0.6</text>
<text class="ss" transform="translate(279.4 987.7) scale(0.96 1)" font-size="17.2" text-anchor="middle">0.8</text>
<text class="ss" transform="translate(331.6 987.7) scale(0.96 1)" font-size="17.2" text-anchor="middle">1.0</text>
<text class="ss" transform="translate(383.7 987.7) scale(0.96 1)" font-size="17.2" text-anchor="middle">1.2</text>
<text class="ss" transform="translate(435.8 987.7) scale(0.96 1)" font-size="17.2" text-anchor="middle">1.4</text>
<text class="ss" transform="translate(487.9 987.7) scale(0.96 1)" font-size="17.2" text-anchor="middle">1.6</text>
<text class="ss" transform="translate(540.0 987.7) scale(0.96 1)" font-size="17.2" text-anchor="middle">1.8</text>
<text class="ss" transform="translate(550.8 971.4) scale(0.96 1)" font-size="17.2" fill="#5bb9cf">0.0</text>
<text class="ss" transform="translate(550.8 898.9) scale(0.96 1)" font-size="17.2" fill="#5bb9cf">0.2</text>
<text class="ss" transform="translate(550.8 826.4) scale(0.96 1)" font-size="17.2" fill="#5bb9cf">0.4</text>
<text class="ss" transform="translate(550.8 753.9) scale(0.96 1)" font-size="17.2" fill="#5bb9cf">0.6</text>
<text class="ss" transform="translate(550.8 681.4) scale(0.96 1)" font-size="17.2" fill="#5bb9cf">0.8</text>
<text class="ss" transform="translate(550.8 608.9) scale(0.96 1)" font-size="17.2" fill="#5bb9cf">1.0</text>
<rect x="91.3" y="625.1" width="36.4" height="18.2" fill="#ffd7ad" stroke="#1a1a1a" stroke-width="1.15"/>
<rect x="91.3" y="651" width="36.4" height="18.4" fill="#bdfc81" stroke="#1a1a1a" stroke-width="1.15"/>
<text class="ss" transform="translate(132 640.3) scale(0.96 1)" font-size="16.9">Con.CO<tspan font-size="10.2" dy="6.2">2</tspan></text>
<text class="ss" transform="translate(132 666.2) scale(0.96 1)" font-size="16.9">Con.H<tspan font-size="10.2" dy="6.2">2</tspan></text>
<text class="ss" transform="translate(305.5 1016.3) scale(0.96 1)" font-size="18.7" text-anchor="middle">Time (h)</text>
<text class="ss" font-size="18.6" text-anchor="middle" transform="translate(26.4 784.4) scale(0.96 1) rotate(-90)">Consumption CO<tspan font-size="11.8" dy="5.6">2</tspan><tspan dy="-5.6"> and H</tspan><tspan font-size="11.8" dy="5.6">2</tspan><tspan dy="-5.6"> (g/L)</tspan></text>
<text class="ss" font-size="18.6" fill="#66b1c2" text-anchor="middle" transform="translate(593.6 785) scale(0.96 1) rotate(-90)">Methanol (g/L)</text>
</g>
<g id="chartC">
<rect x="758.2" y="644.4" width="42.5" height="329.7" fill="#9ffcfc" stroke="#5e6a6a" stroke-width="0.9"/>
<rect x="800.7" y="953.8" width="42.5" height="20.3" fill="#fdc5a3" stroke="#5e6a6a" stroke-width="0.9"/>
<rect x="843.2" y="965.4" width="42.5" height="8.7" fill="#5aa9fb" stroke="#5e6a6a" stroke-width="0.9"/>
<rect x="970.3" y="842.4" width="42.5" height="131.7" fill="#9ffcfc" stroke="#5e6a6a" stroke-width="0.9"/>
<rect x="1012.8" y="643.4" width="42.5" height="330.7" fill="#fdc5a3" stroke="#5e6a6a" stroke-width="0.9"/>
<rect x="1055.3" y="823.4" width="42.5" height="150.7" fill="#5aa9fb" stroke="#5e6a6a" stroke-width="0.9"/>
<rect x="756" y="787.9" width="47" height="6.8" fill="#fff"/>
<path d="M673.5 608.4 V788.4 M673.5 794.6 V974.1 M666.0 974.1 H1204.0 M673.5 608.4 H1208.6" stroke="#000" stroke-width="1.7" fill="none"/>
<path d="M1204.0 608.4 V974.1" stroke="#000" stroke-width="1.7" fill="none"/>
<path d="M666.1 791.3 L680.9 785 M666.1 797.7 L680.9 791.3" stroke="#000" stroke-width="1.5" fill="none"/>
<path d="M666.0 974.1 H673.5 M669.2 951.6 H673.5 M666.0 929.2 H673.5 M669.2 906.8 H673.5 M666.0 884.3 H673.5 M669.2 861.9 H673.5 M666.0 839.4 H673.5 M669.2 817.0 H673.5 M666.0 788.0 H673.5 M669.2 752.1 H673.5 M666.0 716.2 H673.5 M669.2 680.4 H673.5 M666.0 644.5 H673.5 M1204.0 974.1 H1212.0 M1204.0 949.7 H1208.6 M1204.0 925.3 H1212.0 M1204.0 900.9 H1208.6 M1204.0 876.6 H1212.0 M1204.0 852.2 H1208.6 M1204.0 827.8 H1212.0 M1204.0 803.4 H1208.6 M1204.0 779.0 H1212.0 M1204.0 754.6 H1208.6 M1204.0 730.2 H1212.0 M1204.0 705.9 H1208.6 M1204.0 681.5 H1212.0 M1204.0 657.1 H1208.6 M1204.0 632.7 H1212.0 " stroke="#000" stroke-width="1.7" fill="none"/>
<text class="ss" transform="translate(661.5 979.0) scale(0.96 1)" font-size="15.95" text-anchor="end">0</text>
<text class="ss" transform="translate(661.5 934.1) scale(0.96 1)" font-size="15.95" text-anchor="end">20</text>
<text class="ss" transform="translate(661.5 889.2) scale(0.96 1)" font-size="15.95" text-anchor="end">40</text>
<text class="ss" transform="translate(661.5 844.3) scale(0.96 1)" font-size="15.95" text-anchor="end">60</text>
<text class="ss" transform="translate(661.5 792.9) scale(0.96 1)" font-size="15.95" text-anchor="end">800</text>
<text class="ss" transform="translate(661.5 721.1) scale(0.96 1)" font-size="15.95" text-anchor="end">900</text>
<text class="ss" transform="translate(661.5 649.4) scale(0.96 1)" font-size="15.95" text-anchor="end">1000</text>
<text class="ss" transform="translate(1215.7 979.2) scale(0.96 1)" font-size="15.95">0</text>
<text class="ss" transform="translate(1215.7 930.4) scale(0.96 1)" font-size="15.95">20</text>
<text class="ss" transform="translate(1215.7 881.7) scale(0.96 1)" font-size="15.95">40</text>
<text class="ss" transform="translate(1215.7 832.9) scale(0.96 1)" font-size="15.95">60</text>
<text class="ss" transform="translate(1215.7 784.1) scale(0.96 1)" font-size="15.95">80</text>
<text class="ss" transform="translate(1215.7 735.3) scale(0.96 1)" font-size="15.95">100</text>
<text class="ss" transform="translate(1215.7 686.6) scale(0.96 1)" font-size="15.95">120</text>
<text class="ss" transform="translate(1215.7 637.8) scale(0.96 1)" font-size="15.95">140</text>
<text class="ss" transform="translate(821.4 997.5) scale(0.96 1)" font-size="19.4" text-anchor="middle">Original solution</text>
<text class="ss" transform="translate(1034 997.5) scale(0.96 1)" font-size="19.4" text-anchor="middle">Concentrated solution</text>
<rect x="730.2" y="614.7" width="41.6" height="20.2" fill="#9ffcfc" stroke="#5e6a6a" stroke-width="0.9"/>
<rect x="849.4" y="614.7" width="41.6" height="20.2" fill="#fdc5a3" stroke="#5e6a6a" stroke-width="0.9"/>
<rect x="1038.9" y="614.7" width="41.4" height="20.2" fill="#5aa9fb" stroke="#5e6a6a" stroke-width="0.9"/>
<text class="ss" transform="translate(777.4 630.8) scale(0.96 1)" font-size="19.5">Volume</text>
<text class="ss" transform="translate(896.4 630.8) scale(0.96 1)" font-size="19.4">Glycolaldehyde</text>
<text class="ss" transform="translate(1085 630.8) scale(0.96 1)" font-size="19.4">Formate</text>
<text class="ss" font-size="22.9" text-anchor="middle" transform="translate(618.6 788.6) scale(0.95 1) rotate(-90)">Volume (L)</text>
<text class="ss" font-size="22.7" text-anchor="middle" transform="translate(1265.3 788.4) scale(0.95 1) rotate(-90)">Glycolaldehyde/Formate (mM)</text>
</g>
<g id="chartD">
<path d="M1398.2 609.3 V963.1 M1391.2 963.1 H1863.5 M1391.2 609.3 H1863.5" stroke="#000" stroke-width="1.7" fill="none"/>
<path d="M1337.5 608.5 V963.9" stroke="#0000ff" stroke-width="1.45" fill="none"/>
<path d="M1863.5 608.5 V963.9" stroke="#ff0000" stroke-width="1.6" fill="none"/>
<path d="M1391.2 963.1 H1398.2 M1394.5 937.8 H1398.2 M1391.2 912.6 H1398.2 M1394.5 887.3 H1398.2 M1391.2 862.0 H1398.2 M1394.5 836.8 H1398.2 M1391.2 811.5 H1398.2 M1394.5 786.2 H1398.2 M1391.2 760.9 H1398.2 M1394.5 735.7 H1398.2 M1391.2 710.4 H1398.2 M1394.5 685.1 H1398.2 M1391.2 659.9 H1398.2 M1394.5 634.6 H1398.2 M1391.2 609.3 H1398.2 M1398.2 963.1 V970.3000000000001 M1434.0 963.1 V966.8000000000001 M1469.8 963.1 V970.3000000000001 M1505.5 963.1 V966.8000000000001 M1541.3 963.1 V970.3000000000001 M1577.1 963.1 V966.8000000000001 M1612.8 963.1 V970.3000000000001 M1648.6 963.1 V966.8000000000001 M1684.4 963.1 V970.3000000000001 M1720.2 963.1 V966.8000000000001 M1756.0 963.1 V970.3000000000001 M1791.7 963.1 V966.8000000000001 M1827.5 963.1 V970.3000000000001 M1863.3 963.1 V966.8000000000001 " stroke="#000" stroke-width="1.6" fill="none"/>
<path d="M1330.1 963.1 H1337.5 M1333.7 927.7 H1337.5 M1330.1 892.3 H1337.5 M1333.7 857.0 H1337.5 M1330.1 821.6 H1337.5 M1333.7 786.2 H1337.5 M1330.1 750.8 H1337.5 M1333.7 715.4 H1337.5 M1330.1 680.1 H1337.5 M1333.7 644.7 H1337.5 M1330.1 609.3 H1337.5 " stroke="#0000ff" stroke-width="1.45" fill="none"/>
<path d="M1863.5 963.1 H1870.1 M1863.5 935.9 H1867.0 M1863.5 908.7 H1870.1 M1863.5 881.5 H1867.0 M1863.5 854.2 H1870.1 M1863.5 827.0 H1867.0 M1863.5 799.8 H1870.1 M1863.5 772.6 H1867.0 M1863.5 745.4 H1870.1 M1863.5 718.2 H1867.0 M1863.5 691.0 H1870.1 M1863.5 663.7 H1867.0 M1863.5 636.5 H1870.1 M1863.5 609.3 H1867.0 " stroke="#ff0000" stroke-width="1.6" fill="none"/>
<clipPath id="cpD"><rect x="1398.2" y="609.3" width="465.29999999999995" height="354.30000000000007"/></clipPath>
<g clip-path="url(#cpD2)">
<clipPath id="cpD2"><rect x="1398.0" y="609.3" width="475.29999999999995" height="354.1000000000001"/></clipPath>
<polyline points="1398.2,621.4 1469.8,707.0 1541.3,764.4 1612.8,822.2 1684.4,871.2 1756.0,913.0 1827.5,913.8" fill="none" stroke="#000" stroke-width="2.55" stroke-linejoin="round" clip-path="url(#cpD)"/>
<rect x="1394.5" y="617.7" width="7.4" height="7.4" fill="#fff" stroke="#fff" stroke-width="1.7"/>
<rect x="1466.0" y="703.3" width="7.4" height="7.4" fill="#fff" stroke="#fff" stroke-width="1.7"/>
<rect x="1537.6" y="760.7" width="7.4" height="7.4" fill="#fff" stroke="#fff" stroke-width="1.7"/>
<rect x="1609.1" y="818.5" width="7.4" height="7.4" fill="#fff" stroke="#fff" stroke-width="1.7"/>
<rect x="1680.7" y="867.5" width="7.4" height="7.4" fill="#fff" stroke="#fff" stroke-width="1.7"/>
<rect x="1752.2" y="909.3" width="7.4" height="7.4" fill="#fff" stroke="#fff" stroke-width="1.7"/>
<rect x="1823.8" y="910.1" width="7.4" height="7.4" fill="#fff" stroke="#fff" stroke-width="1.7"/>
<path d="M1398.2 614.5 V628.4 M1394.6 614.5 H1401.8 M1394.6 628.4 H1401.8 M1469.8 698.3 V716.2 M1466.2 698.3 H1473.3 M1466.2 716.2 H1473.3 M1541.3 755.1 V774.9 M1537.7 755.1 H1544.9 M1537.7 774.9 H1544.9 M1612.8 811.6 V833.3 M1609.2 811.6 H1616.4 M1609.2 833.3 H1616.4 M1684.4 865.6 V876.7 M1680.8 865.6 H1688.0 M1680.8 876.7 H1688.0 M1756.0 907.2 V918.7 M1752.4 907.2 H1759.5 M1752.4 918.7 H1759.5 M1827.5 907.8 V920.0 M1823.9 907.8 H1831.1 M1823.9 920.0 H1831.1 " stroke="#000" stroke-width="1.1" fill="none"/>
<rect x="1394.5" y="617.7" width="7.4" height="7.4" fill="#000"/>
<rect x="1466.0" y="703.3" width="7.4" height="7.4" fill="#000"/>
<rect x="1537.6" y="760.7" width="7.4" height="7.4" fill="#000"/>
<rect x="1609.1" y="818.5" width="7.4" height="7.4" fill="#000"/>
<rect x="1680.7" y="867.5" width="7.4" height="7.4" fill="#000"/>
<rect x="1752.2" y="909.3" width="7.4" height="7.4" fill="#000"/>
<rect x="1823.8" y="910.1" width="7.4" height="7.4" fill="#000"/>
<polyline points="1398.2,806.7 1469.8,837.8 1541.3,858.9 1612.8,898.9 1684.4,913.5 1756.0,952.0 1827.5,952.3" fill="none" stroke="#0000ff" stroke-width="2.55" stroke-linejoin="round" clip-path="url(#cpD)"/>
<circle cx="1398.2" cy="806.7" r="4.15" fill="#fff" stroke="#fff" stroke-width="1.7"/>
<circle cx="1469.8" cy="837.8" r="4.15" fill="#fff" stroke="#fff" stroke-width="1.7"/>
<circle cx="1541.3" cy="858.9" r="4.15" fill="#fff" stroke="#fff" stroke-width="1.7"/>
<circle cx="1612.8" cy="898.9" r="4.15" fill="#fff" stroke="#fff" stroke-width="1.7"/>
<circle cx="1684.4" cy="913.5" r="4.15" fill="#fff" stroke="#fff" stroke-width="1.7"/>
<circle cx="1756.0" cy="952.0" r="4.15" fill="#fff" stroke="#fff" stroke-width="1.7"/>
<circle cx="1827.5" cy="952.3" r="4.15" fill="#fff" stroke="#fff" stroke-width="1.7"/>
<path d="M1398.2 800.4 V813.3 M1394.6 800.4 H1401.8 M1394.6 813.3 H1401.8 M1469.8 832.2 V844.0 M1466.2 832.2 H1473.3 M1466.2 844.0 H1473.3 M1541.3 850.4 V867.8 M1537.7 850.4 H1544.9 M1537.7 867.8 H1544.9 M1612.8 888.2 V909.6 M1609.2 888.2 H1616.4 M1609.2 909.6 H1616.4 M1684.4 907.8 V919.3 M1680.8 907.8 H1688.0 M1680.8 919.3 H1688.0 M1756.0 950.0 V954.0 M1752.4 950.0 H1759.5 M1752.4 954.0 H1759.5 M1827.5 948.7 V956.2 M1823.9 948.7 H1831.1 M1823.9 956.2 H1831.1 " stroke="#0000ff" stroke-width="1.1" fill="none"/>
<circle cx="1398.2" cy="806.7" r="4.15" fill="#0000ff"/>
<circle cx="1469.8" cy="837.8" r="4.15" fill="#0000ff"/>
<circle cx="1541.3" cy="858.9" r="4.15" fill="#0000ff"/>
<circle cx="1612.8" cy="898.9" r="4.15" fill="#0000ff"/>
<circle cx="1684.4" cy="913.5" r="4.15" fill="#0000ff"/>
<circle cx="1756.0" cy="952.0" r="4.15" fill="#0000ff"/>
<circle cx="1827.5" cy="952.3" r="4.15" fill="#0000ff"/>
<polyline points="1398.2,963.1 1469.8,911.6 1541.3,853.3 1612.8,780.0 1684.4,730.7 1756.0,651.0 1827.5,642.6" fill="none" stroke="#ff0000" stroke-width="2.55" stroke-linejoin="round" clip-path="url(#cpD)"/>
<polygon points="1398.2,957.4 1393.2,967.0 1403.2,967.0" fill="#fff" stroke="#fff" stroke-width="1.7"/>
<polygon points="1469.8,905.9 1464.8,915.5 1474.8,915.5" fill="#fff" stroke="#fff" stroke-width="1.7"/>
<polygon points="1541.3,847.6 1536.3,857.2 1546.3,857.2" fill="#fff" stroke="#fff" stroke-width="1.7"/>
<polygon points="1612.8,774.3 1607.8,783.9 1617.8,783.9" fill="#fff" stroke="#fff" stroke-width="1.7"/>
<polygon points="1684.4,725.0 1679.4,734.6 1689.4,734.6" fill="#fff" stroke="#fff" stroke-width="1.7"/>
<polygon points="1756.0,645.3 1751.0,654.9 1761.0,654.9" fill="#fff" stroke="#fff" stroke-width="1.7"/>
<polygon points="1827.5,636.9 1822.5,646.5 1832.5,646.5" fill="#fff" stroke="#fff" stroke-width="1.7"/>
<path d="M1469.8 906.7 V918.2 M1466.2 906.7 H1473.3 M1466.2 918.2 H1473.3 M1541.3 842.2 V866.2 M1537.7 842.2 H1544.9 M1537.7 866.2 H1544.9 M1612.8 768.9 V792.2 M1609.2 768.9 H1616.4 M1609.2 792.2 H1616.4 M1684.4 720.4 V741.9 M1680.8 720.4 H1688.0 M1680.8 741.9 H1688.0 M1756.0 638.1 V665.3 M1752.4 638.1 H1759.5 M1752.4 665.3 H1759.5 M1827.5 634.9 V650.4 M1823.9 634.9 H1831.1 M1823.9 650.4 H1831.1 " stroke="#ff0000" stroke-width="1.1" fill="none"/>
<polygon points="1398.2,957.4 1393.2,967.0 1403.2,967.0" fill="#ff0000"/>
<polygon points="1469.8,905.9 1464.8,915.5 1474.8,915.5" fill="#ff0000"/>
<polygon points="1541.3,847.6 1536.3,857.2 1546.3,857.2" fill="#ff0000"/>
<polygon points="1612.8,774.3 1607.8,783.9 1617.8,783.9" fill="#ff0000"/>
<polygon points="1684.4,725.0 1679.4,734.6 1689.4,734.6" fill="#ff0000"/>
<polygon points="1756.0,645.3 1751.0,654.9 1761.0,654.9" fill="#ff0000"/>
<polygon points="1827.5,636.9 1822.5,646.5 1832.5,646.5" fill="#ff0000"/>
</g>
<text class="ss" transform="translate(1387.0 968.4) scale(0.96 1)" font-size="16.9" text-anchor="end">0</text>
<text class="ss" transform="translate(1387.0 917.9) scale(0.96 1)" font-size="16.9" text-anchor="end">20</text>
<text class="ss" transform="translate(1387.0 867.3) scale(0.96 1)" font-size="16.9" text-anchor="end">40</text>
<text class="ss" transform="translate(1387.0 816.8) scale(0.96 1)" font-size="16.9" text-anchor="end">60</text>
<text class="ss" transform="translate(1387.0 766.2) scale(0.96 1)" font-size="16.9" text-anchor="end">80</text>
<text class="ss" transform="translate(1387.0 715.7) scale(0.96 1)" font-size="16.9" text-anchor="end">100</text>
<text class="ss" transform="translate(1387.0 665.2) scale(0.96 1)" font-size="16.9" text-anchor="end">120</text>
<text class="ss" transform="translate(1387.0 614.6) scale(0.96 1)" font-size="16.9" text-anchor="end">140</text>
<text class="ss" transform="translate(1326.6 968.4) scale(0.96 1)" font-size="17.0" fill="#0000ff" text-anchor="end">0</text>
<text class="ss" transform="translate(1326.6 897.6) scale(0.96 1)" font-size="17.0" fill="#0000ff" text-anchor="end">2</text>
<text class="ss" transform="translate(1326.6 826.9) scale(0.96 1)" font-size="17.0" fill="#0000ff" text-anchor="end">4</text>
<text class="ss" transform="translate(1326.6 756.1) scale(0.96 1)" font-size="17.0" fill="#0000ff" text-anchor="end">6</text>
<text class="ss" transform="translate(1326.6 685.4) scale(0.96 1)" font-size="17.0" fill="#0000ff" text-anchor="end">8</text>
<text class="ss" transform="translate(1326.6 614.6) scale(0.96 1)" font-size="17.0" fill="#0000ff" text-anchor="end">10</text>
<text class="ss" transform="translate(1874.5 968.1) scale(0.96 1)" font-size="17.0" fill="#ff0000">0</text>
<text class="ss" transform="translate(1874.5 913.7) scale(0.96 1)" font-size="17.0" fill="#ff0000">10</text>
<text class="ss" transform="translate(1874.5 859.2) scale(0.96 1)" font-size="17.0" fill="#ff0000">20</text>
<text class="ss" transform="translate(1874.5 804.8) scale(0.96 1)" font-size="17.0" fill="#ff0000">30</text>
<text class="ss" transform="translate(1874.5 750.4) scale(0.96 1)" font-size="17.0" fill="#ff0000">40</text>
<text class="ss" transform="translate(1874.5 696.0) scale(0.96 1)" font-size="17.0" fill="#ff0000">50</text>
<text class="ss" transform="translate(1874.5 641.5) scale(0.96 1)" font-size="17.0" fill="#ff0000">60</text>
<text class="ss" transform="translate(1398.2 987.8) scale(0.96 1)" font-size="17.0" text-anchor="middle">0</text>
<text class="ss" transform="translate(1469.8 987.8) scale(0.96 1)" font-size="17.0" text-anchor="middle">1</text>
<text class="ss" transform="translate(1541.3 987.8) scale(0.96 1)" font-size="17.0" text-anchor="middle">2</text>
<text class="ss" transform="translate(1612.8 987.8) scale(0.96 1)" font-size="17.0" text-anchor="middle">3</text>
<text class="ss" transform="translate(1684.4 987.8) scale(0.96 1)" font-size="17.0" text-anchor="middle">4</text>
<text class="ss" transform="translate(1756.0 987.8) scale(0.96 1)" font-size="17.0" text-anchor="middle">5</text>
<text class="ss" transform="translate(1827.5 987.8) scale(0.96 1)" font-size="17.0" text-anchor="middle">6</text>
<line x1="1451.1" y1="624.7" x2="1485.3" y2="624.7" stroke="#000" stroke-width="2.6"/>
<rect x="1464.4" y="621.0" width="7.4" height="7.4" fill="#000" stroke="#fff" stroke-width="1.6" paint-order="stroke"/>
<text class="ss" transform="translate(1488.2 629.4) scale(0.96 1)" font-size="15.25">Glycolaldehyde</text>
<line x1="1603.4" y1="624.7" x2="1637.3" y2="624.7" stroke="#0000ff" stroke-width="2.6"/>
<circle cx="1620.4" cy="624.7" r="4.2" fill="#0000ff" stroke="#fff" stroke-width="1.6" paint-order="stroke"/>
<text class="ss" transform="translate(1641.2 629.4) scale(0.96 1)" font-size="15.25">Formate</text>
<line x1="1703" y1="624.7" x2="1737" y2="624.7" stroke="#ff0000" stroke-width="2.6"/>
<polygon points="1720,618.7 1714.9,628.5 1725.1,628.5" fill="#ff0000" stroke="#fff" stroke-width="1.6" paint-order="stroke"/>
<text class="ss" transform="translate(1740.2 629.4) scale(0.96 1)" font-size="15.25">PHB</text>
<text class="ss" transform="translate(1631 1017.5) scale(0.96 1)" font-size="18.65" text-anchor="middle">Time (h)</text>
<text class="ss" font-size="18.25" fill="#0000ff" text-anchor="middle" transform="translate(1307.3 786.7) scale(0.96 1) rotate(-90)">Formate (mM)</text>
<text class="ss" font-size="18.17" text-anchor="middle" transform="translate(1359.5 785.8) scale(0.96 1) rotate(-90)">Glycolaldehyde (mM)</text>
<text class="ss" font-size="17.96" fill="#ff0000" text-anchor="middle" transform="translate(1911.6 786.4) scale(0.96 1) rotate(-90)">PHB (mM)</text>
</g>
</svg>
</body>
</html>
